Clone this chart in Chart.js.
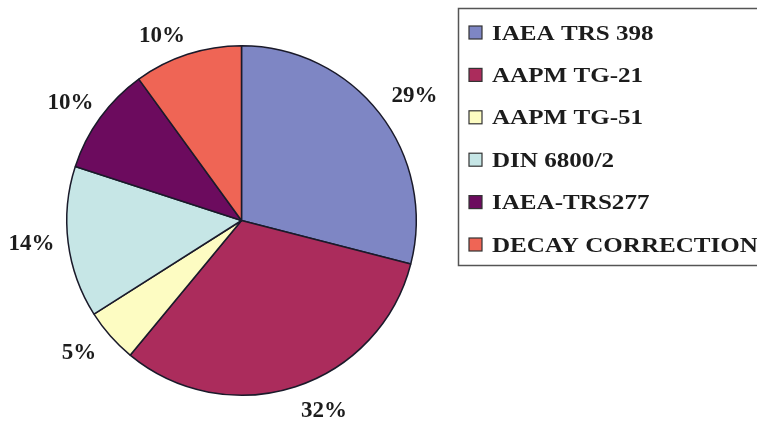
<!DOCTYPE html>
<html>
<head>
<meta charset="utf-8">
<script src="https://cdn.jsdelivr.net/npm/chart.js@4"></script>
<style>
  html, body { margin: 0; padding: 0; background: #fff; }
  #wrap { width: 757px; height: 424px; }
</style>
</head>
<body>
<div id="wrap"><canvas id="pieCanvas" width="757" height="424"></canvas></div>
<script>
const protocols = ["IAEA TRS 398", "AAPM TG-21", "AAPM TG-51", "DIN 6800/2", "IAEA-TRS277", "DECAY CORRECTION"];
const shares = [29, 32, 5, 14, 10, 10];
const shareLabels = ["29%", "32%", "5%", "14%", "10%", "10%"];
const sliceColors = ["#7e86c4", "#ab2c5c", "#fdfcc2", "#c6e6e6", "#6c0b5e", "#ef6555"];

const FONT = "'Liberation Serif', 'Times New Roman', serif";
const LEGEND_STRETCH = 1.14;
// small nudges so the labels sit where the original placed them
const labelNudge = [[8, 3], [18, -9], [-6, -6], [-3, -4], [-2, 4], [-15, 13]];

// labels outside the slices + the boxed legend on the right
const decorPlugin = {
  id: "decor",
  afterDraw(chart) {
    const ctx = chart.ctx;
    const arcs = chart.getDatasetMeta(0).data;
    ctx.save();
    ctx.fillStyle = "#1c1c1c";
    ctx.font = "bold 23px " + FONT;
    ctx.textAlign = "center";
    ctx.textBaseline = "middle";
    arcs.forEach((arc, i) => {
      const mid = (arc.startAngle + arc.endAngle) / 2;
      const r = arc.outerRadius + 34;
      const x = arc.x + Math.cos(mid) * r + labelNudge[i][0];
      const y = arc.y + Math.sin(mid) * r + labelNudge[i][1];
      ctx.fillText(shareLabels[i], x, y + 1);
    });

    // legend box
    ctx.strokeStyle = "#555";
    ctx.lineWidth = 1.5;
    ctx.strokeRect(458.5, 8.5, 320, 257);
    ctx.font = "bold 22px " + FONT;
    ctx.textAlign = "left";
    for (let i = 0; i < protocols.length; i++) {
      const y = 33 + i * 42.4;
      ctx.fillStyle = sliceColors[i];
      ctx.fillRect(469, y - 7, 13, 13);
      ctx.strokeStyle = "#333";
      ctx.lineWidth = 1.2;
      ctx.strokeRect(469, y - 7, 13, 13);
      ctx.save();
      ctx.translate(492, y + 1);
      ctx.scale(LEGEND_STRETCH, 1);
      ctx.fillStyle = "#1c1c1c";
      ctx.fillText(protocols[i], 0, 0);
      ctx.restore();
    }
    ctx.restore();
  }
};

new Chart(document.getElementById("pieCanvas"), {
  type: "pie",
  data: {
    labels: protocols,
    datasets: [{
      data: shares,
      backgroundColor: sliceColors,
      borderColor: "#1a1a2a",
      borderWidth: 1.5
    }]
  },
  options: {
    responsive: false,
    animation: false,
    layout: { padding: { left: 66, right: 340, top: 45, bottom: 28 } },
    plugins: {
      legend: { display: false },
      tooltip: { enabled: false }
    }
  },
  plugins: [decorPlugin]
});
</script>
</body>
</html>
